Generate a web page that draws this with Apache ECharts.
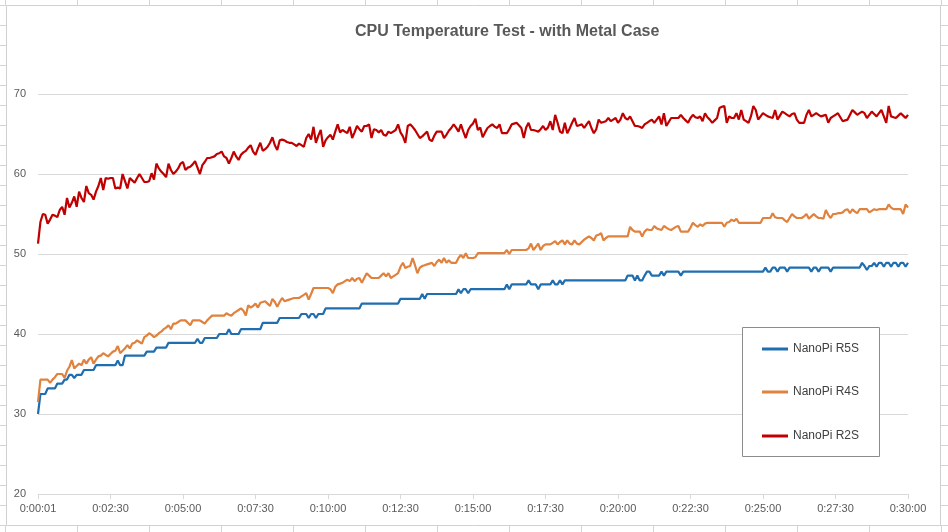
<!DOCTYPE html>
<html>
<head>
<meta charset="utf-8">
<script src="https://cdn.jsdelivr.net/npm/echarts@6/dist/echarts.min.js"></script>
<style>
html,body{margin:0;padding:0;background:#fff;}
#chart{width:948px;height:532px;}
</style>
</head>
<body>
<div id="chart"></div>
<script>
// Sample times in seconds (first sample at 0:00:01, then every 5 s up to 0:30:00)
const sampleSeconds = [1];
for (let s = 5; s <= 1800; s += 5) sampleSeconds.push(s);
function fmt(s){const h=Math.floor(s/3600),m=Math.floor((s%3600)/60),x=s%60;return h+':'+String(m).padStart(2,'0')+':'+String(x).padStart(2,'0');}
const categories = sampleSeconds.map(fmt);

const seriesNames = ['NanoPi R5S','NanoPi R4S','NanoPi R2S'];
const yTicks = [20,30,40,50,60,70];

const r5s = [
30.0,32.5,32.5,32.5,33.2,33.2,33.2,33.2,33.8,33.8,
33.8,34.3,34.3,34.9,34.9,34.5,34.9,34.9,34.9,35.5,
35.5,35.5,35.5,35.5,36.1,36.1,36.1,36.1,36.1,36.1,
36.1,36.1,36.1,36.7,36.1,36.1,37.3,37.3,37.3,37.3,
37.3,37.3,37.3,37.3,37.3,37.8,37.8,37.8,37.8,38.3,
38.3,38.3,38.3,38.3,38.9,38.9,38.9,38.9,38.9,38.9,
38.9,38.9,38.9,38.9,38.9,38.9,39.4,38.9,38.9,39.5,
39.5,39.5,39.5,39.5,39.5,40.0,40.0,40.0,40.0,40.6,
40.0,40.0,40.0,40.0,40.6,40.6,40.6,40.6,40.6,40.6,
40.6,40.6,40.6,41.4,41.4,41.4,41.4,41.4,41.4,41.4,
42.0,42.0,42.0,42.0,42.0,42.0,42.0,42.0,42.0,42.5,
42.5,42.5,42.0,42.5,42.5,42.0,42.5,42.5,42.5,43.2,
43.2,43.2,43.2,43.2,43.2,43.2,43.2,43.2,43.2,43.2,
43.2,43.2,43.2,43.2,43.8,43.8,43.8,43.8,43.8,43.8,
43.8,43.8,43.8,43.8,43.8,43.8,43.8,43.8,43.8,43.8,
44.4,44.4,44.4,44.4,44.4,44.4,44.4,44.4,44.4,45.0,
44.4,45.0,45.0,45.0,45.0,45.0,45.0,45.0,45.0,45.0,
45.0,45.0,45.0,45.0,45.6,45.1,45.6,45.6,45.1,45.6,
45.6,45.6,45.6,45.6,45.6,45.6,45.6,45.6,45.6,45.6,
45.6,45.6,45.6,45.6,46.2,45.6,46.2,46.2,46.2,46.2,
46.2,46.2,46.2,46.7,46.2,46.2,46.2,45.6,46.2,46.2,
46.2,46.2,46.2,46.7,46.2,46.2,46.7,46.2,46.7,46.7,
46.7,46.7,46.7,46.7,46.7,46.7,46.7,46.7,46.7,46.7,
46.7,46.7,46.7,46.7,46.7,46.7,46.7,46.7,46.7,46.7,
46.7,46.7,46.7,46.7,47.3,47.3,47.3,46.7,47.3,46.7,
46.7,47.3,47.8,47.8,47.3,47.3,47.3,47.3,47.8,47.3,
47.8,47.8,47.8,47.8,47.8,47.8,47.3,47.8,47.8,47.8,
47.8,47.8,47.8,47.8,47.8,47.8,47.8,47.8,47.8,47.8,
47.8,47.8,47.8,47.8,47.8,47.8,47.8,47.8,47.8,47.8,
47.8,47.8,47.8,47.8,47.8,47.8,47.8,47.8,47.8,47.8,
47.8,48.3,47.8,47.8,48.3,48.3,47.8,48.3,48.3,48.3,
47.8,48.3,48.3,48.3,48.3,48.3,48.3,48.3,48.3,48.3,
47.8,48.3,48.3,47.8,48.3,48.3,48.3,48.3,47.8,48.3,
48.3,48.3,48.3,48.3,48.3,48.3,48.3,48.3,48.3,48.3,
48.3,48.9,48.5,48.0,48.5,48.5,48.9,48.4,48.9,48.9,
48.4,48.9,48.9,48.4,48.9,48.9,48.4,48.9,48.9,48.4,48.9
];

const r4s = [
31.5,34.3,34.3,34.3,34.3,33.9,34.3,34.6,35.0,35.0,
35.0,34.5,35.4,35.9,36.75,35.7,36.0,36.3,36.1,36.8,
36.3,36.8,37.1,36.3,36.8,37.2,37.3,37.6,37.4,37.2,
37.5,37.8,37.9,38.5,37.6,37.9,38.2,38.6,38.2,38.8,
38.9,39.2,39.0,38.8,39.6,39.8,40.1,39.9,39.6,39.8,
40.1,40.3,40.6,40.8,41.1,40.6,41.3,41.3,41.5,41.7,
41.7,41.7,41.4,41.1,41.7,41.7,41.7,41.7,41.5,41.3,
41.7,42.0,42.3,42.3,42.3,42.3,42.3,42.3,42.6,42.4,
42.3,42.6,42.8,43.0,43.2,42.9,42.3,43.6,43.3,43.5,
43.8,43.3,43.9,44.0,44.1,43.8,43.5,44.4,44.0,43.4,
44.0,44.5,44.1,44.2,44.3,44.4,44.5,44.5,44.5,44.7,
44.9,45.1,44.3,45.0,45.75,45.75,45.75,45.75,45.75,45.75,
45.75,45.6,45.1,45.9,46.2,46.3,46.4,46.6,46.8,46.6,
47.0,46.6,46.9,47.0,46.4,47.0,47.6,47.3,47.0,47.0,
47.0,47.0,47.3,47.6,47.2,47.6,47.0,47.2,47.4,47.6,
48.4,48.9,48.25,48.4,48.5,49.5,48.6,47.6,48.3,48.5,
48.6,48.7,48.8,48.9,48.5,49.0,49.3,48.9,49.5,48.9,
49.2,48.9,48.9,48.9,49.5,49.9,49.5,50.1,49.5,49.5,
49.5,49.6,50.1,50.1,50.1,50.1,50.1,50.1,50.1,50.1,
50.1,50.1,50.1,50.1,50.5,50.0,50.5,50.5,50.5,50.5,
50.5,50.5,50.5,50.7,51.3,50.5,50.9,51.3,50.5,51.0,
51.2,51.2,51.2,51.4,51.6,51.2,51.5,51.7,51.2,51.7,
51.3,51.2,51.7,51.3,51.2,51.5,51.8,52.0,52.2,52.0,
51.7,52.3,52.4,52.6,51.7,52.0,52.2,52.2,52.2,52.2,
52.2,52.2,52.2,52.2,52.2,53.4,53.0,52.8,52.8,52.8,
52.2,52.8,53.1,53.0,53.0,53.5,53.2,53.1,53.0,53.5,
53.3,53.1,53.0,53.2,53.4,53.5,52.8,52.8,52.8,52.8,
53.3,53.9,53.6,53.4,53.7,53.5,53.8,53.9,53.9,53.9,
53.9,53.9,53.9,53.9,53.4,53.9,54.0,54.3,54.1,54.4,
53.9,53.9,53.9,53.9,53.9,53.9,53.9,53.9,53.9,53.9,
54.5,54.5,54.5,54.5,55.1,54.6,54.5,54.5,54.5,54.2,
54.0,54.5,55.0,54.7,54.5,54.5,54.5,54.7,55.0,54.4,
54.7,55.0,54.7,54.5,54.5,54.4,55.5,54.9,54.5,55.0,
55.0,55.1,55.1,55.2,55.5,55.6,55.1,55.6,55.3,55.1,
55.6,55.6,55.6,55.6,55.2,55.4,55.6,55.5,55.6,55.6,
55.6,55.6,56.2,55.8,55.6,55.6,55.6,55.6,55.0,56.2,55.8
];

const r2s = [
51.3,54.0,55.0,54.9,53.8,54.3,54.9,54.8,54.6,55.5,
55.9,54.9,57.0,55.8,56.4,57.2,55.9,57.8,57.0,56.5,
58.5,57.6,57.4,56.8,57.8,58.5,59.5,58.0,59.5,59.4,
59.5,59.5,58.2,58.3,58.2,60.0,59.1,58.2,59.5,59.2,
58.9,59.5,60.0,59.5,59.0,59.0,59.1,60.1,59.3,61.3,
60.7,60.3,60.0,59.6,61.3,60.5,60.0,60.3,60.7,61.3,
61.5,60.5,60.8,60.9,61.2,61.6,60.8,60.0,61.1,61.5,
62.0,62.0,62.1,62.2,62.5,62.6,62.8,62.2,62.0,61.3,
62.0,62.8,62.2,61.75,62.4,62.7,62.9,63.3,63.6,62.8,
62.4,63.2,63.9,62.9,63.1,63.4,63.9,64.6,63.6,63.0,
64.2,64.3,64.2,64.0,63.9,63.9,63.7,63.5,63.8,63.6,
63.4,64.5,65.0,64.3,65.9,63.9,64.8,65.5,63.4,64.2,
64.6,64.9,64.3,65.3,66.2,65.2,65.5,65.3,65.1,65.9,
64.5,65.2,66.0,65.6,65.3,66.0,66.0,66.2,64.5,65.6,
65.5,65.2,65.5,64.9,64.8,65.3,65.1,65.3,65.5,66.2,
65.2,64.7,63.9,66.0,66.2,65.9,65.5,65.0,64.5,64.7,
65.0,65.3,64.3,64.1,64.8,65.3,65.3,65.3,64.5,64.9,
65.4,65.75,66.2,65.8,65.3,66.2,65.3,64.5,65.5,66.0,
66.3,66.9,65.5,65.8,64.6,65.2,65.75,66.0,66.2,65.9,
65.75,66.2,65.1,65.1,65.1,65.6,66.2,66.3,66.4,66.1,
65.75,64.5,65.8,66.4,65.5,65.5,65.4,65.3,65.6,66.0,
65.5,65.8,66.6,65.5,67.4,66.4,65.3,65.1,66.4,65.1,
65.7,66.4,67.0,66.0,66.1,66.2,65.75,66.2,66.6,65.75,
65.1,65.6,66.8,66.4,66.5,66.6,67.0,66.6,66.8,67.0,
66.4,66.8,67.6,67.0,66.8,67.2,66.6,66.0,66.0,65.9,
65.75,66.2,66.4,66.6,66.8,66.4,66.8,67.2,66.2,67.6,
66.0,66.5,67.0,67.0,67.0,67.0,67.4,67.0,66.7,66.4,
67.0,67.4,67.1,67.0,67.2,66.6,67.6,67.1,66.8,66.4,
66.7,67.0,68.25,68.4,68.5,66.4,67.2,67.0,67.0,67.6,
66.8,68.0,66.8,66.6,66.4,67.2,68.5,68.0,66.8,67.2,
67.6,67.4,67.2,67.1,67.0,68.0,66.8,67.3,67.8,67.6,
67.4,67.2,67.5,67.6,66.8,66.4,66.4,66.4,67.4,68.0,
67.2,67.4,67.6,67.4,67.2,67.3,67.4,66.4,67.0,67.2,
67.4,67.6,67.1,66.6,66.7,66.8,67.4,68.0,67.7,67.4,
67.6,67.8,67.6,67.0,67.4,67.8,67.5,67.2,67.6,68.0,
67.2,66.4,68.5,67.2,67.1,67.0,67.3,67.6,67.3,67.0,67.4
];

const colors = ['#1f6eb0', '#e0823d', '#c00000'];
const FONT = 'Liberation Sans, Arial, sans-serif';

// Spreadsheet grid visible around the chart object
const sheetLine = '#d4d4d4';
const graphics = [];
for (let x = 5.5; x < 948; x += 72) {
  graphics.push({type:'line', silent:true, z:0, shape:{x1:x,y1:0,x2:x,y2:5}, style:{stroke:sheetLine,lineWidth:1}});
  graphics.push({type:'line', silent:true, z:0, shape:{x1:x,y1:525,x2:x,y2:532}, style:{stroke:sheetLine,lineWidth:1}});
}
for (let y = 5.5; y < 532; y += 20) {
  graphics.push({type:'line', silent:true, z:0, shape:{x1:0,y1:y,x2:6,y2:y}, style:{stroke:sheetLine,lineWidth:1}});
  graphics.push({type:'line', silent:true, z:0, shape:{x1:940,y1:y,x2:948,y2:y}, style:{stroke:sheetLine,lineWidth:1}});
}
graphics.push({type:'rect', silent:true, z:0, shape:{x:6.5,y:5.5,width:934,height:520}, style:{fill:'none',stroke:'#d0d0d0',lineWidth:1}});
// legend frame
graphics.push({type:'rect', silent:true, z:3, shape:{x:742.5,y:327.5,width:137,height:129}, style:{fill:'#ffffff',stroke:'#8c8c8c',lineWidth:1}});

const legendTops = [342, 385, 429];
const chart = echarts.init(document.getElementById('chart'), null, {renderer:'canvas'});
chart.setOption({
  animation: false,
  backgroundColor: '#ffffff',
  color: colors,
  title: {
    text: 'CPU Temperature Test - with Metal Case',
    left: 355, top: 24, padding: 0,
    textStyle: {fontFamily: FONT, fontSize: 16, fontWeight: 'bold', color: '#595959'}
  },
  legend: seriesNames.map((n, i) => ({
    data: [n], left: 762, top: legendTops[i], padding: 0, orient: 'horizontal',
    icon: 'rect', itemWidth: 26, itemHeight: 3, z: 5,
    textStyle: {fontFamily: FONT, fontSize: 12, color: '#404040', lineHeight: 14}
  })),
  grid: {left: 38, right: 40, top: 94, bottom: 38, containLabel: false},
  xAxis: {
    type: 'category', data: categories, boundaryGap: false,
    axisLine: {lineStyle: {color: '#d9d9d9', width: 1}},
    axisTick: {show: true, interval: 29, length: 5, lineStyle: {color: '#d9d9d9'}},
    axisLabel: {interval: 29, color: '#595959', fontFamily: FONT, fontSize: 11, margin: 9},
    splitLine: {show: false}
  },
  yAxis: {
    type: 'value', min: yTicks[0], max: yTicks[yTicks.length-1], interval: 10,
    axisLine: {show: false}, axisTick: {show: false},
    axisLabel: {color: '#595959', fontFamily: FONT, fontSize: 11, margin: 12},
    splitLine: {lineStyle: {color: '#d9d9d9', width: 1}}
  },
  graphic: graphics,
  series: [r5s, r4s, r2s].map((d, i) => ({
    name: seriesNames[i], type: 'line', data: d, showSymbol: false, symbol: 'none',
    lineStyle: {width: 2.2, color: colors[i]}, itemStyle: {color: colors[i]}, z: 2
  }))
});
</script>
</body>
</html>
